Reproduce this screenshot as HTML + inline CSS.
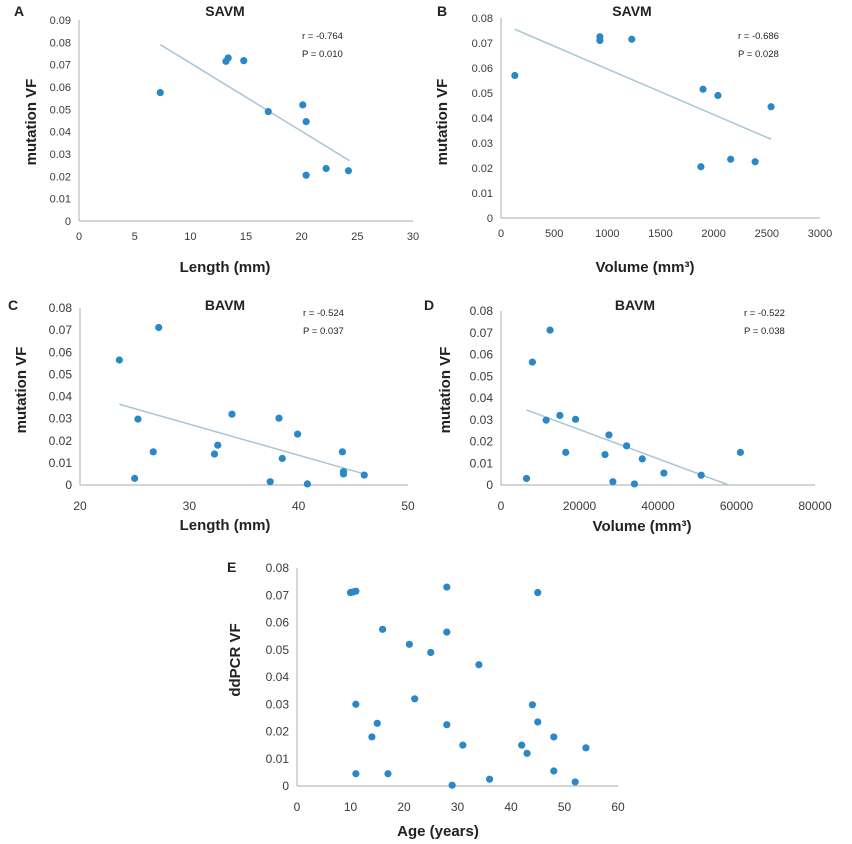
<!DOCTYPE html>
<html><head><meta charset="utf-8"><style>
html,body{margin:0;padding:0;background:#fff}
svg{display:block;font-family:"Liberation Sans",Arial,sans-serif}
.tick{font-size:11px;fill:#3a3a3a}
.tickb{font-size:12px;fill:#3a3a3a}
.ttl{font-size:14px;font-weight:bold;fill:#222}
.lab{font-size:15px;font-weight:bold;fill:#222}
.stat{font-size:9.5px;fill:#222}
</style></head><body>
<svg id="fig" width="852" height="844" viewBox="0 0 852 844"></svg>
<script>
const aX=[7.3,13.2,13.4,14.8,17,20.1,20.4,20.4,22.2,24.2];
const aY=[0.0575,0.0715,0.073,0.0718,0.049,0.052,0.0445,0.0205,0.0235,0.0225];
const aTrend=[[7.3,0.079],[24.3,0.027]];
const bX=[130,930,930,1230,1880,1900,2040,2160,2390,2540];
const bY=[0.057,0.071,0.0725,0.0715,0.0205,0.0515,0.049,0.0235,0.0225,0.0445];
const bTrend=[[130,0.0755],[2540,0.0315]];
const cX=[23.6,25,25.3,26.7,27.2,32.3,32.6,33.9,37.4,38.2,38.5,39.9,40.8,44,44.1,44.1,46];
const cY=[0.0565,0.003,0.0298,0.015,0.0712,0.014,0.018,0.032,0.0015,0.0302,0.012,0.023,0.0005,0.015,0.005,0.006,0.0045];
const cTrend=[[23.6,0.0365],[46,0.005]];
const dX=[6500,8000,11500,12500,15000,16500,19000,26500,27500,28500,32000,34000,36000,41500,51000,61000];
const dY=[0.003,0.0565,0.0298,0.0712,0.032,0.015,0.0302,0.014,0.023,0.0015,0.018,0.0005,0.012,0.0055,0.0045,0.015];
const dTrend=[[6500,0.0345],[58000,0]];
const eX=[10,10.5,11,28,45,16,28,21,25,34,11,22,44,15,28,45,14,48,31,42,43,54,11,17,48,36,52,29];
const eY=[0.071,0.0712,0.0715,0.073,0.071,0.0575,0.0565,0.052,0.049,0.0445,0.030,0.032,0.0298,0.023,0.0225,0.0235,0.018,0.018,0.015,0.015,0.012,0.014,0.0045,0.0045,0.0055,0.0025,0.0015,0.0003];
const aXTicks=[0,5,10,15,20,25,30], aYTicks=["0","0.01","0.02","0.03","0.04","0.05","0.06","0.07","0.08","0.09"];
const bXTicks=[0,500,1000,1500,2000,2500,3000], bYTicks=["0","0.01","0.02","0.03","0.04","0.05","0.06","0.07","0.08"];
const cXTicks=[20,30,40,50], dXTicks=[0,20000,40000,60000,80000];
const eXTicks=[0,10,20,30,40,50,60];

const svg=document.getElementById('fig');
const NS='http://www.w3.org/2000/svg';
function mk(tag,attrs,txt){const e=document.createElementNS(NS,tag);for(const k in attrs)e.setAttribute(k,attrs[k]);if(txt!==undefined)e.textContent=txt;svg.appendChild(e);return e;}

function panel(p){
  const sx=v=>p.x0+(v-p.xmin)/(p.xmax-p.xmin)*(p.x1-p.x0);
  const sy=v=>p.y0-(v/p.ymax)*(p.y0-p.y1);
  const tc=p.big?'tickb':'tick';
  let e=mk('line',{x1:p.x0,y1:p.y1,x2:p.x0,y2:p.y0,stroke:'#bbb','stroke-width':1.2});
  
  
  e=mk('line',{x1:p.x0,y1:p.y0,x2:p.x1,y2:p.y0,stroke:'#bbb','stroke-width':1.2});
  
  
  p.yt.forEach(t=>{
    e=mk('text',{x:p.x0-8,y:sy(parseFloat(t))+4,'text-anchor':'end',class:tc},t);
    
    
  });
  p.xt.forEach(t=>{
    e=mk('text',{x:sx(t),y:p.y0+p.xtOff,'text-anchor':'middle',class:tc},String(t));
    
    
  });
  if(p.trend){
    e=mk('line',{x1:sx(p.trend[0][0]),y1:sy(p.trend[0][1]),x2:sx(p.trend[1][0]),y2:sy(p.trend[1][1]),stroke:'#a9c6d6','stroke-width':1.5});
    
    
  }
  p.xs.forEach((v,i)=>{
    e=mk('circle',{cx:sx(v),cy:sy(p.ys[i]),r:3.6,fill:'#2b88c6'});
    
    
  });
  e=mk('text',{x:p.lx,y:p.ly,class:'ttl'},p.letter);
  
  
  if(p.title){
    e=mk('text',{x:p.tx,y:p.ty,'text-anchor':'middle',class:'ttl'},p.title);
    
    
  }
  if(p.r){
    e=mk('text',{x:p.sx,y:p.sy,class:'stat'},p.r);
    
    
    e=mk('text',{x:p.sx,y:p.sy+18,class:'stat'},p.P);
    
    
  }
  e=mk('text',{x:p.xlx,y:p.xly,'text-anchor':'middle',class:'lab'},p.xlab);
  
  
  e=mk('text',{x:0,y:0,'text-anchor':'middle',class:'lab',transform:`translate(${p.ylx},${p.yly}) rotate(-90)`},p.ylab);
  
  
}

panel({id:'panel-a',x0:79,x1:413,xmin:0,xmax:30,y0:221,y1:20,ymax:0.09,xs:aX,ys:aY,trend:aTrend,xt:aXTicks,yt:aYTicks,xtOff:19,
  letter:'A',lx:14,ly:16,title:'SAVM',tx:225,ty:16,r:'r = -0.764',P:'P = 0.010',sx:302,sy:39,xlab:'Length (mm)',xlx:225,xly:272,ylab:'mutation VF',ylx:36,yly:122});
panel({id:'panel-b',x0:501,x1:820,xmin:0,xmax:3000,y0:218,y1:18,ymax:0.08,xs:bX,ys:bY,trend:bTrend,xt:bXTicks,yt:bYTicks,xtOff:19,
  letter:'B',lx:437,ly:16,title:'SAVM',tx:632,ty:16,r:'r = -0.686',P:'P = 0.028',sx:738,sy:39,xlab:'Volume (mm³)',xlx:645,xly:272,ylab:'mutation VF',ylx:447,yly:122});
panel({id:'panel-c',big:true,x0:80,x1:408,xmin:20,xmax:50,y0:485,y1:308,ymax:0.08,xs:cX,ys:cY,trend:cTrend,xt:cXTicks,yt:bYTicks,xtOff:25,
  letter:'C',lx:8,ly:310,title:'BAVM',tx:225,ty:310,r:'r = -0.524',P:'P = 0.037',sx:303,sy:316,xlab:'Length (mm)',xlx:225,xly:530,ylab:'mutation VF',ylx:26,yly:390});
panel({id:'panel-d',big:true,x0:501,x1:815,xmin:0,xmax:80000,y0:485,y1:311,ymax:0.08,xs:dX,ys:dY,trend:dTrend,xt:dXTicks,yt:bYTicks,xtOff:25,
  letter:'D',lx:424,ly:310,title:'BAVM',tx:635,ty:310,r:'r = -0.522',P:'P = 0.038',sx:744,sy:316,xlab:'Volume (mm³)',xlx:642,xly:531,ylab:'mutation VF',ylx:450,yly:390});
panel({id:'panel-e',big:true,x0:297,x1:618,xmin:0,xmax:60,y0:786,y1:568,ymax:0.08,xs:eX,ys:eY,trend:null,xt:eXTicks,yt:bYTicks,xtOff:25,
  letter:'E',lx:227,ly:572,title:null,xlab:'Age (years)',xlx:438,xly:836,ylab:'ddPCR VF',ylx:240,yly:660});
</script>
</body></html>
